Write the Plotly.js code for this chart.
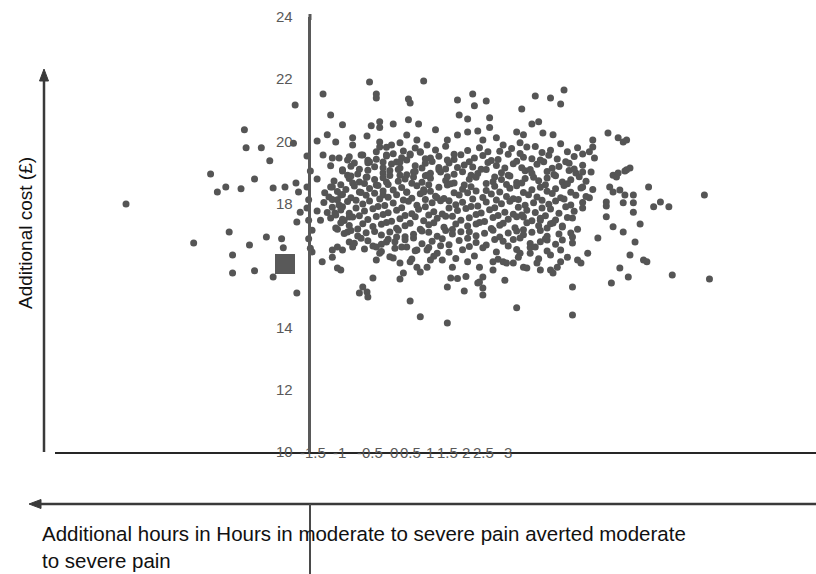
<!DOCTYPE html>
<html>
<head>
<meta charset="utf-8">
<script src="https://cdn.plot.ly/plotly-3.0.1.min.js"></script>
<style>html,body{margin:0;padding:0;background:#fff;}#chart{width:816px;height:574px;}</style>
</head>
<body>
<div id="chart"></div>
<script>
// ---- data ----
// outer / edge simulation points: [additional hours averted, additional cost £]
const outerCloud = [
[-1.08,17.98],[-0.68,16.73],[-0.58,18.95],[-0.54,18.37],[-0.49,18.53],[-0.47,17.08],[-0.45,16.34],[-0.45,15.76],
[-0.40,18.47],[-0.38,20.37],[-0.37,19.79],[-0.35,16.66],[-0.32,18.79],[-0.32,15.83],[-0.28,19.79],[-0.25,16.92],
[-0.23,19.37],[-0.21,18.50],[-0.21,15.63],[-0.16,16.86],[-0.15,16.57],[-0.14,18.53],[-0.09,19.94],[-0.08,21.17],
[-0.075,18.66],[-0.06,18.37],[-0.07,15.12],[-0.07,17.40],[-0.05,17.72],[-0.01,17.85],[-0.01,19.53],[-0.01,18.53],
[0.00,16.86],[0.02,16.44],[0.01,16.56],[0.02,17.14],[0.00,17.46],[0.00,18.12],[0.01,19.04],[0.05,18.79],
[0.05,20.01],[0.05,17.76],[0.07,17.46],[0.08,16.12],[0.085,21.52],[0.085,19.56],[0.095,18.34],[0.11,20.21],
[0.13,20.85],[0.13,19.21],[0.14,19.46],[0.14,18.53],[0.14,16.50],[0.14,16.27],[0.155,17.69],[0.16,19.98],
[0.17,18.12],[0.17,17.17],[0.17,16.60],[0.17,15.92],[0.19,15.86],[0.18,19.46],[0.19,18.27],[0.20,20.53],
[0.20,19.08],[0.20,17.89],[0.20,17.49],[0.20,16.50],[0.23,18.91],[0.23,19.40],[0.23,17.08],[0.24,19.50],
[0.24,17.56],[0.24,16.76],[0.26,20.11],[0.26,19.88],[0.26,18.66],[0.26,16.60],[0.27,19.30],[0.30,18.37],
[0.30,15.12],[0.32,19.56],[0.32,15.31],[0.345,15.15],[0.35,14.99],[0.345,20.17],[0.345,18.85],[0.36,21.91],
[0.36,19.33],[0.37,20.50],[0.38,15.60],[0.40,21.52],[0.40,21.39],[0.40,19.66],[0.40,18.59],[0.40,16.18],
[0.40,16.60],[0.42,20.63],[0.42,20.44],[0.42,19.98],[0.42,19.82],[0.42,16.40],[0.44,18.27],[0.46,19.56],
[0.46,18.69],[0.46,16.76],[0.49,19.88],[0.50,20.56],[0.50,16.24],[0.52,19.33],[0.52,16.92],[0.54,19.95],
[0.54,19.14],[0.54,18.91],[0.54,16.08],[0.54,15.57],[0.56,15.76],[0.58,20.20],[0.58,18.37],[0.58,16.60],
[0.59,21.36],[0.59,20.69],[0.60,21.23],[0.60,19.56],[0.60,16.12],[0.60,14.86],[0.62,19.01],[0.64,20.04],
[0.64,16.50],[0.64,15.95],[0.65,20.56],[0.66,19.66],[0.66,15.79],[0.66,14.35],[0.68,21.94],[0.68,18.37],
[0.70,19.88],[0.70,18.91],[0.70,15.95],[0.70,16.50],[0.72,19.46],[0.72,16.18],[0.75,20.37],[0.76,18.18],
[0.76,16.40],[0.78,19.01],[0.79,16.18],[0.82,15.31],[0.82,14.15],[0.84,15.60],[0.85,15.95],[0.88,21.33],
[0.89,20.85],[0.88,15.58],[0.93,15.65],[0.92,15.18],[0.94,20.72],[0.94,16.12],[0.97,21.52],[0.98,21.14],
[1.00,15.44],[1.01,15.95],[1.01,15.47],[1.03,15.28],[1.03,15.05],[1.03,15.63],[1.05,21.30],[1.07,20.76],
[1.07,20.44],[1.09,16.12],[1.09,15.86],[1.15,16.12],[1.16,15.53],[1.17,16.08],[1.21,16.08],[1.23,14.64],
[1.23,20.30],[1.25,16.40],[1.26,21.04],[1.27,20.21],[1.27,15.95],[1.27,17.56],[1.29,15.92],[1.31,16.40],
[1.32,20.56],[1.34,21.46],[1.35,16.08],[1.36,20.63],[1.37,15.86],[1.37,17.46],[1.385,20.27],[1.41,16.82],
[1.43,21.39],[1.43,15.86],[1.43,16.34],[1.445,20.21],[1.445,15.76],[1.445,17.37],[1.47,15.95],[1.49,21.20],
[1.49,19.92],[1.49,16.50],[1.49,16.12],[1.50,17.24],[1.50,16.82],[1.51,21.65],[1.53,19.66],[1.53,16.27],
[1.55,17.05],[1.56,15.31],[1.56,14.41],[1.56,17.53],[1.56,16.92],[1.56,16.73],[1.59,19.79],[1.59,17.17],
[1.59,16.18],[1.61,16.08],[1.62,19.59],[1.62,19.01],[1.62,18.53],[1.62,17.85],[1.65,16.40],[1.66,19.66],
[1.66,18.18],[1.68,20.04],[1.68,19.82],[1.69,19.46],[1.71,16.89],[1.76,17.92],[1.76,17.57],[1.76,18.05],
[1.77,20.27],[1.78,18.53],[1.79,15.44],[1.80,18.91],[1.80,18.37],[1.80,17.25],[1.82,18.85],[1.83,20.11],
[1.83,18.98],[1.84,18.43],[1.84,15.92],[1.86,19.98],[1.86,18.02],[1.86,17.08],[1.87,19.04],[1.87,18.27],
[1.88,20.04],[1.88,19.08],[1.89,15.63],[1.90,19.14],[1.90,16.34],[1.92,18.27],[1.92,17.72],[1.92,18.02],
[1.93,16.76],[1.96,17.34],[1.98,16.18],[2.00,16.12],[2.01,18.53],[2.04,17.89],[2.08,18.05],[2.13,17.89],
[2.15,15.70],[2.34,18.27],[2.37,15.57],
[0.88,20.20],[0.94,20.30],[1.00,20.33],[1.03,20.04],[1.11,20.11],[1.15,19.88],[1.25,19.95],[1.29,19.82],[0.82,20.04]
];
// dense core of the simulation cloud
const coreCloud = [
[0.46,19.81],[0.56,19.69],[0.63,19.78],[0.75,19.72],[0.81,19.84],[0.94,19.70],[1.01,19.79],[1.13,19.68],[1.20,19.77],[1.34,19.83],[1.43,19.71],
[0.31,19.56],[0.40,19.42],[0.46,19.53],[0.55,19.47],[0.60,19.59],[0.69,19.44],[0.77,19.52],[0.82,19.40],[0.90,19.57],[0.98,19.46],[1.03,19.54],[1.12,19.41],[1.18,19.58],[1.27,19.49],[1.32,19.44],[1.42,19.55],[1.47,19.43],[1.57,19.51],
[0.25,19.20],[0.35,19.31],[0.39,19.18],[0.49,19.27],[0.54,19.33],[0.63,19.21],[0.69,19.29],[0.77,19.16],[0.83,19.30],[0.92,19.24],[0.97,19.17],[1.06,19.32],[1.11,19.22],[1.21,19.28],[1.26,19.15],[1.35,19.26],[1.39,19.34],[1.48,19.19],[1.54,19.29],[1.62,19.23],
[0.20,19.04],[0.29,18.95],[0.35,19.07],[0.44,18.98],[0.48,19.06],[0.58,18.92],[0.63,19.03],[0.72,18.97],[0.77,19.08],[0.86,18.94],[0.91,19.02],[1.00,18.96],[1.05,19.09],[1.14,18.99],[1.18,18.91],[1.28,19.05],[1.32,18.97],[1.41,19.03],[1.45,18.93],[1.54,19.06],[1.58,18.98],[1.67,19.01],
[0.15,18.72],[0.24,18.80],[0.30,18.69],[0.39,18.77],[0.44,18.83],[0.53,18.71],[0.57,18.79],[0.67,18.68],[0.72,18.81],[0.81,18.74],[0.86,18.66],[0.95,18.78],[0.99,18.84],[1.09,18.70],[1.14,18.77],[1.23,18.67],[1.28,18.80],[1.36,18.73],[1.41,18.82],[1.50,18.69],[1.55,18.76],[1.64,18.71],
[0.13,18.53],[0.22,18.45],[0.27,18.56],[0.36,18.48],[0.41,18.58],[0.50,18.43],[0.55,18.51],[0.64,18.57],[0.68,18.44],[0.77,18.52],[0.82,18.59],[0.91,18.46],[0.96,18.54],[1.05,18.42],[1.10,18.55],[1.19,18.49],[1.23,18.57],[1.32,18.44],[1.37,18.52],[1.46,18.47],[1.51,18.58],[1.61,18.50],[1.68,18.45],
[0.12,18.21],[0.20,18.29],[0.25,18.18],[0.34,18.26],[0.39,18.33],[0.47,18.20],[0.52,18.28],[0.61,18.17],[0.66,18.31],[0.75,18.23],[0.80,18.16],[0.89,18.27],[0.94,18.34],[1.03,18.19],[1.08,18.30],[1.17,18.22],[1.21,18.15],[1.30,18.28],[1.35,18.21],[1.44,18.32],[1.49,18.18],[1.58,18.26],[1.64,18.22],
[0.09,18.03],[0.18,17.95],[0.23,18.06],[0.32,17.98],[0.36,18.08],[0.45,17.93],[0.50,18.01],[0.59,18.07],[0.64,17.94],[0.73,18.02],[0.78,18.09],[0.87,17.96],[0.91,18.04],[1.00,17.92],[1.05,18.05],[1.14,17.99],[1.19,18.07],[1.28,17.94],[1.33,18.02],[1.42,17.97],[1.46,18.08],[1.55,17.95],[1.62,18.03],
[0.11,17.71],[0.19,17.79],[0.24,17.68],[0.33,17.76],[0.38,17.83],[0.47,17.70],[0.52,17.78],[0.61,17.67],[0.65,17.81],[0.74,17.73],[0.79,17.66],[0.88,17.77],[0.93,17.84],[1.02,17.69],[1.07,17.80],[1.16,17.72],[1.21,17.65],[1.29,17.78],[1.34,17.71],[1.43,17.82],[1.48,17.68],[1.57,17.75],
[0.13,17.53],[0.21,17.45],[0.26,17.56],[0.35,17.48],[0.40,17.58],[0.49,17.43],[0.54,17.51],[0.63,17.57],[0.68,17.44],[0.76,17.52],[0.81,17.59],[0.90,17.46],[0.95,17.54],[1.04,17.42],[1.09,17.55],[1.18,17.49],[1.23,17.57],[1.32,17.44],[1.37,17.52],[1.46,17.47],[1.53,17.55],
[0.16,17.21],[0.24,17.29],[0.29,17.18],[0.38,17.26],[0.43,17.33],[0.52,17.20],[0.57,17.28],[0.66,17.17],[0.71,17.31],[0.80,17.23],[0.85,17.16],[0.94,17.27],[0.99,17.34],[1.08,17.19],[1.13,17.30],[1.22,17.22],[1.27,17.15],[1.36,17.28],[1.41,17.21],[1.50,17.27],
[0.21,17.03],[0.29,16.95],[0.34,17.06],[0.43,16.98],[0.48,17.08],[0.57,16.93],[0.62,17.01],[0.71,17.07],[0.76,16.94],[0.85,17.02],[0.90,17.09],[0.99,16.96],[1.04,17.04],[1.13,16.92],[1.18,17.05],[1.27,16.99],[1.32,17.07],[1.41,16.94],[1.48,17.02],
[0.27,16.72],[0.35,16.80],[0.43,16.69],[0.51,16.77],[0.57,16.83],[0.67,16.70],[0.73,16.78],[0.83,16.67],[0.89,16.81],[0.99,16.74],[1.05,16.66],[1.15,16.78],[1.21,16.84],[1.31,16.71],[1.37,16.77],[1.46,16.69],
[0.33,16.53],[0.43,16.45],[0.51,16.56],[0.63,16.48],[0.71,16.58],[0.83,16.43],[0.91,16.51],[1.03,16.57],[1.11,16.44],[1.23,16.52],[1.31,16.58],[1.41,16.47],
[0.48,16.28],[0.61,16.21],[0.74,16.30],[0.87,16.23],[0.98,16.31],[1.12,16.20],[1.24,16.27],[1.36,16.22]
];
// further points filling the densest part of the cloud
const innerCloud = [
[0.50,19.60],[0.66,19.65],[0.86,19.58],[1.06,19.66],[1.25,19.61],[1.38,19.64],
[0.35,19.39],[0.44,19.33],[0.58,19.40],[0.73,19.35],[0.86,19.41],[0.95,19.34],[1.08,19.38],[1.23,19.36],[1.37,19.40],[1.52,19.34],
[0.30,19.10],[0.44,19.15],[0.53,19.09],[0.67,19.14],[0.81,19.11],[0.88,19.16],[1.02,19.10],[1.16,19.14],[1.31,19.09],[1.44,19.13],[1.57,19.11],
[0.25,18.88],[0.34,18.84],[0.48,18.90],[0.62,18.85],[0.69,18.89],[0.82,18.86],[0.96,18.91],[1.10,18.85],[1.19,18.88],[1.33,18.84],[1.46,18.89],[1.60,18.86],
[0.19,18.60],[0.33,18.64],[0.47,18.61],[0.61,18.65],[0.71,18.60],[0.84,18.63],[0.92,18.59],[1.05,18.64],[1.17,18.61],[1.26,18.66],[1.40,18.60],[1.53,18.63],
[0.17,18.38],[0.31,18.35],[0.44,18.40],[0.58,18.36],[0.72,18.39],[0.86,18.34],[0.99,18.40],[1.13,18.37],[1.27,18.35],[1.41,18.39],[1.55,18.36],
[0.14,18.13],[0.28,18.10],[0.42,18.14],[0.56,18.11],[0.69,18.13],[0.83,18.09],[0.97,18.14],[1.11,18.11],[1.24,18.13],[1.38,18.10],[1.51,18.14],
[0.14,17.88],[0.28,17.85],[0.41,17.90],[0.55,17.86],[0.69,17.89],[0.83,17.85],[0.96,17.90],[1.10,17.86],[1.24,17.88],[1.38,17.85],[1.52,17.89],
[0.16,17.63],[0.30,17.60],[0.44,17.64],[0.57,17.61],[0.71,17.63],[0.85,17.59],[0.99,17.64],[1.12,17.61],[1.26,17.63],[1.40,17.60],
[0.19,17.38],[0.32,17.35],[0.46,17.39],[0.60,17.36],[0.74,17.38],[0.87,17.34],[1.01,17.39],[1.15,17.36],[1.29,17.38],[1.43,17.35],
[0.25,17.13],[0.39,17.10],[0.53,17.14],[0.67,17.11],[0.81,17.13],[0.95,17.09],[1.09,17.14],[1.23,17.11],[1.37,17.13],
[0.31,16.88],[0.47,16.85],[0.62,16.89],[0.79,16.86],[0.94,16.88],[1.10,16.84],[1.25,16.89],[1.40,16.86],
[0.38,16.63],[0.55,16.60],[0.78,16.64],[0.95,16.61],[1.18,16.63],[1.34,16.60]
];
// the single square marker
const squareX = [-0.14];
const squareY = [16.05];
// axis ticks
const yTickValues = [10, 12, 14, 16, 18, 20, 22, 24];
const xTickLabels = ['-1.5', '-1', '-0.5', '0', '0.5', '1', '1.5', '2', '2.5', '3'];
const yTitleText = 'Additional cost (£)';
const xTitleText = 'Additional hours in Hours in moderate to severe pain averted moderate<br>to severe pain';

// ---- layout helpers (pixel -> paper) ----
const L = 55, T = 17, W = 761, H = 435;
const PX = p => (p - L) / W;
const PY = p => (T + H - p) / H;
// centres (px) of the squeezed x tick labels as they appear
const xTickPixel = [313, 339, 370, 394, 410, 430, 447, 466, 483, 508];

const allPts = outerCloud.concat(coreCloud, innerCloud);
const traces = [
  {
    type: 'scatter', mode: 'markers',
    x: allPts.map(p => p[0]), y: allPts.map(p => p[1]),
    marker: {size: 7, color: '#555555'},
    hoverinfo: 'skip', showlegend: false
  },
  {
    type: 'scatter', mode: 'markers',
    x: squareX, y: squareY,
    marker: {size: 20, symbol: 'square', color: '#595959'},
    hoverinfo: 'skip', showlegend: false
  }
];

const annotations = [
  {xref: 'paper', yref: 'paper', x: PX(25), y: PY(233), text: yTitleText, textangle: -90,
   showarrow: false, xanchor: 'center', yanchor: 'middle',
   font: {family: 'Liberation Sans, Arial, sans-serif', size: 19, color: '#111111'}},
  {xref: 'paper', yref: 'paper', x: PX(40), y: PY(520), text: xTitleText,
   showarrow: false, xanchor: 'left', yanchor: 'top', align: 'left',
   font: {family: 'Liberation Sans, Arial, sans-serif', size: 20.5, color: '#111111'}}
];
xTickLabels.forEach((t, i) => annotations.push({
  xref: 'paper', yref: 'paper', x: PX(xTickPixel[i]), y: PY(452), text: t,
  showarrow: false, xanchor: 'center', yanchor: 'middle',
  font: {family: 'Liberation Sans, Arial, sans-serif', size: 15, color: '#595959'}
}));

const arrowColor = '#3a3a3a';
const shapes = [
  // vertical arrow (left)
  {type: 'line', xref: 'paper', yref: 'paper', x0: PX(44), x1: PX(44), y0: PY(452), y1: PY(78),
   line: {color: arrowColor, width: 2.5}},
  {type: 'path', xref: 'paper', yref: 'paper',
   path: `M ${PX(44)} ${PY(69)} L ${PX(39.5)} ${PY(81)} L ${PX(48.5)} ${PY(81)} Z`,
   fillcolor: arrowColor, line: {color: arrowColor, width: 1}},
  // horizontal arrow (bottom)
  {type: 'line', xref: 'paper', yref: 'paper', x0: PX(38), x1: PX(820), y0: PY(504), y1: PY(504),
   line: {color: arrowColor, width: 2.5}},
  {type: 'path', xref: 'paper', yref: 'paper',
   path: `M ${PX(29)} ${PY(504)} L ${PX(41)} ${PY(499.5)} L ${PX(41)} ${PY(508.5)} Z`,
   fillcolor: arrowColor, line: {color: arrowColor, width: 1}},
  // lower continuation of the vertical axis
  {type: 'line', xref: 'paper', yref: 'paper', x0: PX(310), x1: PX(310), y0: PY(504), y1: PY(580),
   line: {color: '#4a4a4a', width: 2}},
  // top overshoot of the vertical axis
  {type: 'line', xref: 'paper', yref: 'paper', x0: PX(310), x1: PX(310), y0: PY(14), y1: PY(20),
   line: {color: '#595959', width: 3}}
];

const layout = {
  width: 816, height: 574, autosize: false,
  margin: {l: L, r: 816 - L - W, t: T, b: 574 - T - H, pad: 0},
  paper_bgcolor: '#ffffff', plot_bgcolor: '#ffffff',
  showlegend: false,
  xaxis: {range: [-1.5, 3], showline: true, linecolor: '#262626', linewidth: 1.5,
          showgrid: false, zeroline: false, showticklabels: false, ticks: '', fixedrange: true},
  yaxis: {range: [10, 24], anchor: 'free', position: (0 - (-1.5)) / 4.5,
          showline: true, linecolor: '#595959', linewidth: 3,
          tickmode: 'array', tickvals: yTickValues, ticks: '', ticklabelstandoff: 12,
          tickfont: {family: 'Liberation Sans, Arial, sans-serif', size: 15, color: '#595959'},
          showgrid: false, zeroline: false, fixedrange: true},
  annotations: annotations,
  shapes: shapes
};

Plotly.newPlot('chart', traces, layout, {staticPlot: true, displayModeBar: false});
</script>
</body>
</html>
